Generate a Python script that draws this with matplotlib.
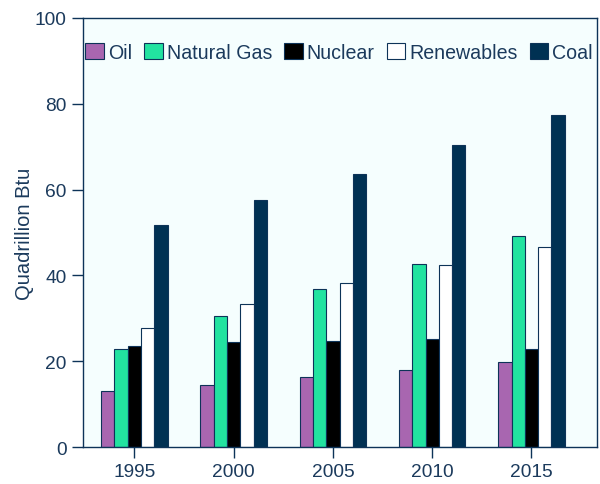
import numpy as np
import matplotlib.pyplot as plt
from matplotlib.patches import Patch

plt.rcParams['font.family'] = ['Liberation Sans', 'DejaVu Sans']

years = ['1995', '2000', '2005', '2010', '2015']
oil = [13.0, 14.5, 16.3, 17.9, 19.8]
natural_gas = [22.8, 30.5, 36.8, 42.7, 49.2]
nuclear = [23.5, 24.5, 24.7, 25.2, 22.8]
renewables = [27.7, 33.3, 38.2, 42.4, 46.6]
coal = [51.7, 57.6, 63.6, 70.4, 77.4]

series = [('Oil', oil, '#a866b0'),
          ('Natural Gas', natural_gas, '#22e3a0'),
          ('Nuclear', nuclear, '#000000'),
          ('Renewables', renewables, '#ffffff'),
          ('Coal', coal, '#003153')]

navy = '#0d3358'
txt = '#1b3a5c'

fig = plt.figure(figsize=(6, 4.85), dpi=100)
ax = fig.add_axes([0.138, 0.076, 0.857, 0.885])
ax.set_facecolor('#f5fefe')

x = np.arange(len(years))
w = 0.134
for i, (name, vals, col) in enumerate(series):
    ax.bar(x + (i - 2) * w, vals, w, color=col, edgecolor=navy, linewidth=0.8, label=name)

ax.set_xlim(-0.52, 4.66)
ax.set_ylim(0, 100)
ax.set_xticks(x)
ax.set_xticklabels(years)
ax.set_yticks([0, 20, 40, 60, 80, 100])
ax.set_ylabel('Quadrillion Btu', fontsize=14.5, color=txt, labelpad=1)

for s in ax.spines.values():
    s.set_color(navy)
    s.set_linewidth(1.0)
ax.tick_params(axis='both', colors=navy, labelcolor=txt, labelsize=13.8, length=8, width=1.0)

handles = [Patch(facecolor=c, edgecolor=navy, linewidth=0.8, label=n) for n, v, c in series]
leg = ax.legend(handles=handles, loc='upper left', ncol=5, frameon=False,
                fontsize=14.1, handlelength=0.95, handleheight=0.95, handletextpad=0.2,
                columnspacing=0.62, borderaxespad=0.2, bbox_to_anchor=(-0.018, 0.97))
for t in leg.get_texts():
    t.set_color(txt)

fig.savefig('out.png', dpi=100)
